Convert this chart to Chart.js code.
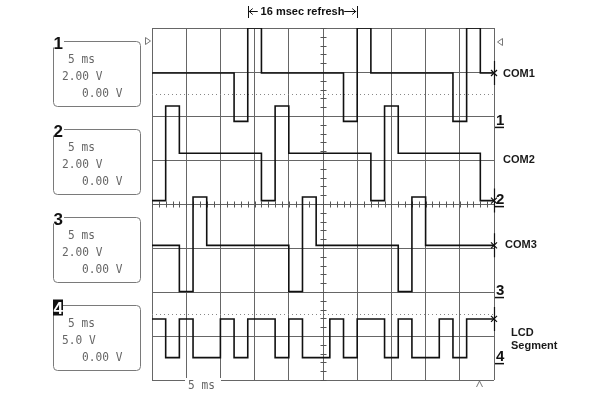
<!DOCTYPE html>
<html>
<head>
<meta charset="utf-8">
<script src="https://cdn.jsdelivr.net/npm/chart.js@4"></script>
<style>
html,body{margin:0;padding:0;background:#fff;}
canvas{display:block;}
</style>
</head>
<body>
<canvas id="c" width="600" height="400"></canvas>
<script>
// ---- Data (time in ms, levels in volts) ----
const com1Times = [0, 12, 14, 16, 28, 30, 32, 44, 46, 48, 50];
const com1Volts = [2.2, 0, 4.25, 2.2, 0, 4.25, 2.2, 0, 4.25, 2.2, 2.2];

const com2Times = [0, 2, 4, 16, 18, 20, 32, 34, 36, 48, 50];
const com2Volts = [0, 4.3, 2.15, 0, 4.3, 2.15, 0, 4.3, 2.15, 0, 0];

const com3Times = [0, 4, 6, 8, 20, 22, 24, 36, 38, 40, 50];
const com3Volts = [2.1, 0, 4.3, 2.1, 0, 4.3, 2.1, 0, 4.3, 2.1, 2.1];

const segTimes = [0, 2, 4, 6, 10, 12, 14, 18, 20, 22, 26, 28, 30, 34, 36, 38, 42, 44, 46, 50];
const segVolts = [4.4, 0, 4.4, 0, 4.4, 0, 4.4, 0, 4.4, 0, 4.4, 0, 4.4, 0, 4.4, 0, 4.4, 0, 4.4, 4.4];

const traceNames = ['COM1', 'COM2', 'COM3', 'LCD Segment'];
const channelIds = ['1', '2', '3', '4'];
const timeLabels = ['5 ms', '5 ms', '5 ms', '5 ms'];
const voltLabels = ['2.00 V', '2.00 V', '2.00 V', '5.0 V'];
const offsetLabels = ['0.00 V', '0.00 V', '0.00 V', '0.00 V'];
const voltsPerDiv = [2, 2, 2, 5];
const refreshStart = 14, refreshEnd = 30;
const refreshLabel = '16 msec refresh';
const sweepLabel = '5 ms';

// display settings: ground position of each channel in screen divisions
const groundDiv = [5.877, 4.077, 2.01, 0.508];
const triggerDiv = [6.5, 1.5];

const series = [[com1Times, com1Volts], [com2Times, com2Volts], [com3Times, com3Volts], [segTimes, segVolts]];

const datasets = series.map(([ts, vs], ch) => ({
  label: traceNames[ch],
  data: ts.map((t, i) => ({x: t, y: groundDiv[ch] + vs[i] / voltsPerDiv[ch]})),
  stepped: true,
  borderColor: '#111',
  borderWidth: 1.6,
  pointRadius: 0,
  fill: false
}));

const overlay = {
  id: 'scope',
  beforeDatasetsDraw(chart) {
    const c = chart.ctx, a = chart.chartArea, xs = chart.scales.x, ys = chart.scales.y;
    c.save();
    // trigger dotted lines
    c.strokeStyle = '#888'; c.lineWidth = 1; c.setLineDash([1, 3]);
    triggerDiv.forEach(d => {
      const y = Math.round(ys.getPixelForValue(d)) + 0.5;
      c.beginPath(); c.moveTo(a.left, y); c.lineTo(a.right, y); c.stroke();
    });
    c.setLineDash([]);
    // center axis minor ticks
    c.strokeStyle = '#555';
    const cx = Math.round(xs.getPixelForValue(25)) + 0.5;
    const cy = Math.round(ys.getPixelForValue(4)) + 0.5;
    for (let d = 0; d <= 8.001; d += 0.2) {
      const y = Math.round(ys.getPixelForValue(d)) + 0.5;
      c.beginPath(); c.moveTo(cx - 3, y); c.lineTo(cx + 3, y); c.stroke();
    }
    for (let t = 0; t <= 50.001; t += 1) {
      const x = Math.round(xs.getPixelForValue(t)) + 0.5;
      c.beginPath(); c.moveTo(x, cy - 3); c.lineTo(x, cy + 3); c.stroke();
    }
    c.restore();
  },
  afterDraw(chart) {
    const c = chart.ctx, a = chart.chartArea, xs = chart.scales.x, ys = chart.scales.y;
    c.save();
    // gap in bottom border for sweep label
    c.fillStyle = '#fff';
    c.fillRect(185, a.bottom - 2, 36, 4);
    c.fillStyle = '#666';
    c.font = '13px "DejaVu Sans Mono"';
    c.textBaseline = 'alphabetic';
    c.save(); c.translate(188, 389); c.scale(0.86, 1); c.fillText(sweepLabel, 0, 0); c.restore();
    // trigger position caret
    c.strokeStyle = '#777'; c.lineWidth = 1;
    c.beginPath(); c.moveTo(476.5, 387); c.lineTo(479.5, 381); c.lineTo(482.5, 387); c.stroke();
    // side trigger triangles
    c.beginPath(); c.moveTo(145.5, 37.5); c.lineTo(150.5, 41); c.lineTo(145.5, 44.5); c.closePath(); c.stroke();
    c.beginPath(); c.moveTo(502.5, 38.5); c.lineTo(497.5, 42); c.lineTo(502.5, 45.5); c.closePath(); c.stroke();

    // refresh annotation
    const x1 = xs.getPixelForValue(refreshStart), x2 = xs.getPixelForValue(refreshEnd);
    c.strokeStyle = '#111'; c.fillStyle = '#111'; c.lineWidth = 1;
    c.beginPath();
    c.moveTo(Math.round(x1) + 0.5, 6); c.lineTo(Math.round(x1) + 0.5, 18);
    c.moveTo(Math.round(x2) + 0.5, 6); c.lineTo(Math.round(x2) + 0.5, 18);
    c.moveTo(x1 + 1, 11.5); c.lineTo(x1 + 10, 11.5);
    c.moveTo(x2 - 13, 11.5); c.lineTo(x2 - 1, 11.5);
    c.moveTo(x1 + 5, 8.5); c.lineTo(x1 + 1.5, 11.5); c.lineTo(x1 + 5, 14.5);
    c.moveTo(x2 - 5, 8.5); c.lineTo(x2 - 1.5, 11.5); c.lineTo(x2 - 5, 14.5);
    c.stroke();
    c.font = 'bold 11px "Liberation Sans"';
    c.textAlign = 'center';
    c.fillText(refreshLabel, (x1 + x2) / 2, 15);

    // right-side labels
    c.textAlign = 'left';
    c.fillStyle = '#1a1a1a';
    c.font = 'bold 11px "Liberation Sans"';
    c.fillText('COM1', 503, 77);
    c.fillText('COM2', 503, 163);
    c.fillText('COM3', 505, 248);
    c.fillText('LCD', 511, 336);
    c.fillText('Segment', 511, 349);

    // ground markers on right edge
    c.font = 'bold 15px "Liberation Sans"';
    c.strokeStyle = '#111'; c.lineWidth = 1.5;
    channelIds.forEach((id, ch) => {
      const y = ys.getPixelForValue(groundDiv[ch]);
      c.fillStyle = '#111';
      c.fillText(id, 496, y + 3.5);
      c.beginPath(); c.moveTo(495, y + 6); c.lineTo(504, y + 6); c.stroke();
    });

    // trace end markers
    c.lineWidth = 1.2;
    series.forEach(([ts, vs], ch) => {
      const y = ys.getPixelForValue(groundDiv[ch] + vs[vs.length - 1] / voltsPerDiv[ch]);
      const x = a.right;
      c.beginPath();
      c.moveTo(x + 0.5, y - 12); c.lineTo(x + 0.5, y + 12);
      c.moveTo(x - 3, y - 3); c.lineTo(x + 3, y + 3);
      c.moveTo(x - 3, y + 3); c.lineTo(x + 3, y - 3);
      c.stroke();
    });

    // channel boxes
    const tops = [41.5, 129.5, 217.5, 305.5];
    channelIds.forEach((id, ch) => {
      const t = tops[ch];
      c.strokeStyle = '#7a7a7a'; c.lineWidth = 1;
      c.beginPath(); c.roundRect(53.5, t, 87, 65, 4); c.stroke();
      c.fillStyle = '#666';
      c.font = '13px "DejaVu Sans Mono"';
      const rows = [[timeLabels[ch], 68, 21], [voltLabels[ch], 62, 38], [offsetLabels[ch], 82, 55]];
      rows.forEach(([txt, x, dy]) => {
        c.save(); c.translate(x, t + dy); c.scale(0.86, 1); c.fillText(txt, 0, 0); c.restore();
      });
      c.font = 'bold 17px "Liberation Sans"';
      if (ch === 3) {
        c.fillStyle = '#111'; c.fillRect(53, t - 6, 10, 16);
        c.fillStyle = '#fff'; c.fillText(id, 53.5, t + 8);
      } else {
        c.fillStyle = '#fff'; c.fillRect(52, t - 8, 12, 14);
        c.fillStyle = '#111'; c.fillText(id, 53.5, t + 7);
      }
    });
    c.restore();
  }
};

new Chart(document.getElementById('c'), {
  type: 'line',
  data: { datasets },
  options: {
    responsive: false,
    animation: false,
    layout: { padding: { left: 152, right: 106, top: 28, bottom: 20 } },
    plugins: { legend: { display: false }, tooltip: { enabled: false } },
    scales: {
      x: {
        type: 'linear', min: 0, max: 50,
        afterFit(s) { s.height = 0; },
        ticks: { display: false, stepSize: 5 },
        grid: { color: '#666', lineWidth: 1, drawTicks: false },
        border: { display: false }
      },
      y: {
        type: 'linear', min: 0, max: 8,
        afterFit(s) { s.width = 0; },
        ticks: { display: false, stepSize: 1 },
        grid: { color: '#666', lineWidth: 1, drawTicks: false },
        border: { display: false }
      }
    }
  },
  plugins: [overlay]
});
</script>
</body>
</html>
